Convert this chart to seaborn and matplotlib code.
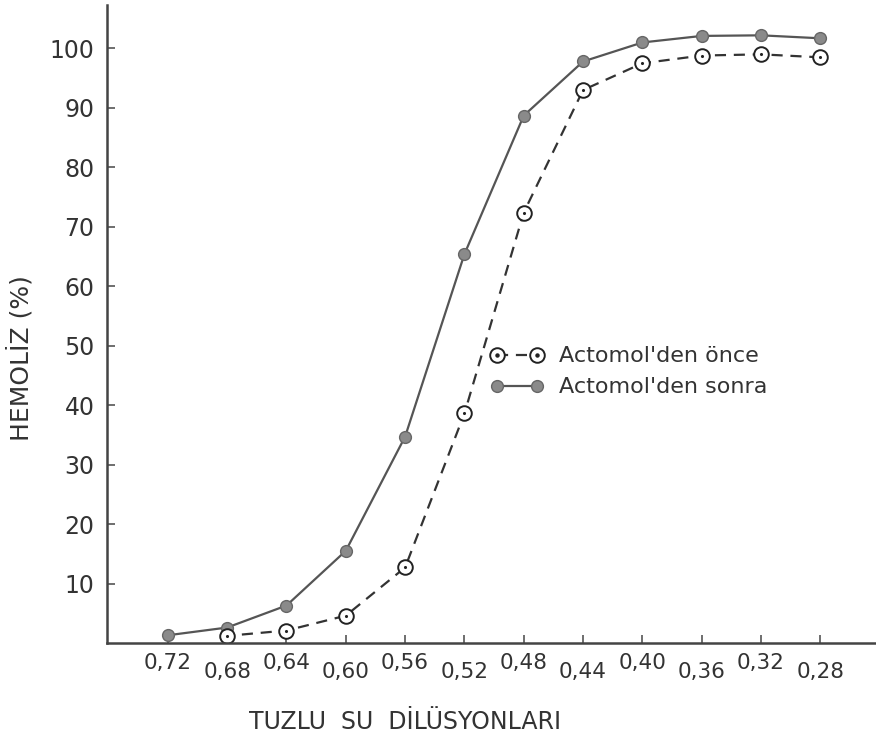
import numpy as np
import pandas as pd
import matplotlib
matplotlib.use("Agg")
import matplotlib.pyplot as plt
import seaborn as sns

# tuzlu su dilüsyonları (x) ve hemoliz yüzdeleri
dilutions = [0.72, 0.68, 0.64, 0.60, 0.56, 0.52, 0.48, 0.44, 0.40, 0.36, 0.32, 0.28]
tick_labels = ["0,72", "0,68", "0,64", "0,60", "0,56", "0,52",
               "0,48", "0,44", "0,40", "0,36", "0,32", "0,28"]
once_x = [0.68, 0.64, 0.60, 0.56, 0.52, 0.48, 0.44, 0.40, 0.36, 0.32, 0.28]
once_y = [1.2, 2.1, 4.6, 12.7, 38.6, 72.4, 93.0, 97.5, 98.8, 99.0, 98.5]
sonra_y = [1.3, 2.6, 6.3, 15.5, 34.7, 65.4, 88.7, 97.8, 101.0, 102.1, 102.2, 101.7]
y_ticks = [10, 20, 30, 40, 50, 60, 70, 80, 90, 100]

sns.set_style("white")
plt.rcParams['font.family'] = ['DejaVu Sans']
ink = '#333333'

df_once = pd.DataFrame({'x': once_x, 'y': once_y})
df_sonra = pd.DataFrame({'x': dilutions, 'y': sonra_y})

fig = plt.figure(figsize=(8.76, 7.40), dpi=100)
ax = fig.add_axes([107 / 876, 97 / 740, 769 / 876, 638 / 740])

sns.lineplot(data=df_sonra, x='x', y='y', ax=ax, color='#555555', lw=1.6,
             marker='o', markersize=8.5, markerfacecolor='#8a8a8a',
             markeredgecolor='#666666', markeredgewidth=1.0)
sns.lineplot(data=df_once, x='x', y='y', ax=ax, color=ink, lw=1.6,
             dashes=False, linestyle=(0, (5, 3.5)),
             marker='o', markersize=10.5, markerfacecolor='white',
             markeredgecolor='#222222', markeredgewidth=1.4)
sns.scatterplot(data=df_once, x='x', y='y', ax=ax, color='#222222', s=5,
                linewidth=0, zorder=5)

ax.set_xlim(0.761, 0.2425)
ax.set_ylim(0, 107.3)

for s in ['top', 'right']:
    ax.spines[s].set_visible(False)
for s in ['left', 'bottom']:
    ax.spines[s].set_color('#444444')
    ax.spines[s].set_linewidth(1.8)

ax.set_yticks(y_ticks)
ax.set_yticklabels([str(v) for v in y_ticks])
ax.tick_params(axis='y', left=True, direction='in', length=6, width=1.2,
               color='#555555', pad=9, labelsize=17, labelcolor=ink)

# staggered x tick labels: major = upper row, minor = lower row
ax.set_xticks(dilutions[0::2])
ax.set_xticklabels(tick_labels[0::2])
ax.set_xticks(dilutions[1::2], minor=True)
ax.set_xticklabels(tick_labels[1::2], minor=True)
ax.tick_params(axis='x', which='major', bottom=True, direction='in', length=6,
               width=1.2, color='#555555', pad=7, labelsize=15.5, labelcolor=ink)
ax.tick_params(axis='x', which='minor', bottom=True, direction='in', length=6,
               width=1.2, color='#555555', pad=14, labelsize=15.5, labelcolor=ink)

ax.set_xlabel("TUZLU  SU  DİLÜSYONLARI", fontsize=17, color=ink)
ax.xaxis.set_label_coords(0.388, -0.105)
ax.set_ylabel("HEMOLİZ (%)", fontsize=18, color=ink)
ax.yaxis.set_label_coords(-0.095, 0.447)

once_line, sonra_line = ax.lines[1], ax.lines[0]
dot_handle = plt.Line2D([], [], ls='none', marker='o', markersize=2.2,
                        color='#222222')
ax.legend([(once_line, dot_handle), sonra_line],
          ["Actomol'den önce", "Actomol'den sonra"],
          loc='upper left', bbox_to_anchor=(0.498, 0.465), frameon=False,
          fontsize=16, labelcolor=ink, handlelength=2.4, handletextpad=0.7,
          labelspacing=0.5, borderpad=0, borderaxespad=0, numpoints=2)

fig.savefig("out.png", dpi=100)
